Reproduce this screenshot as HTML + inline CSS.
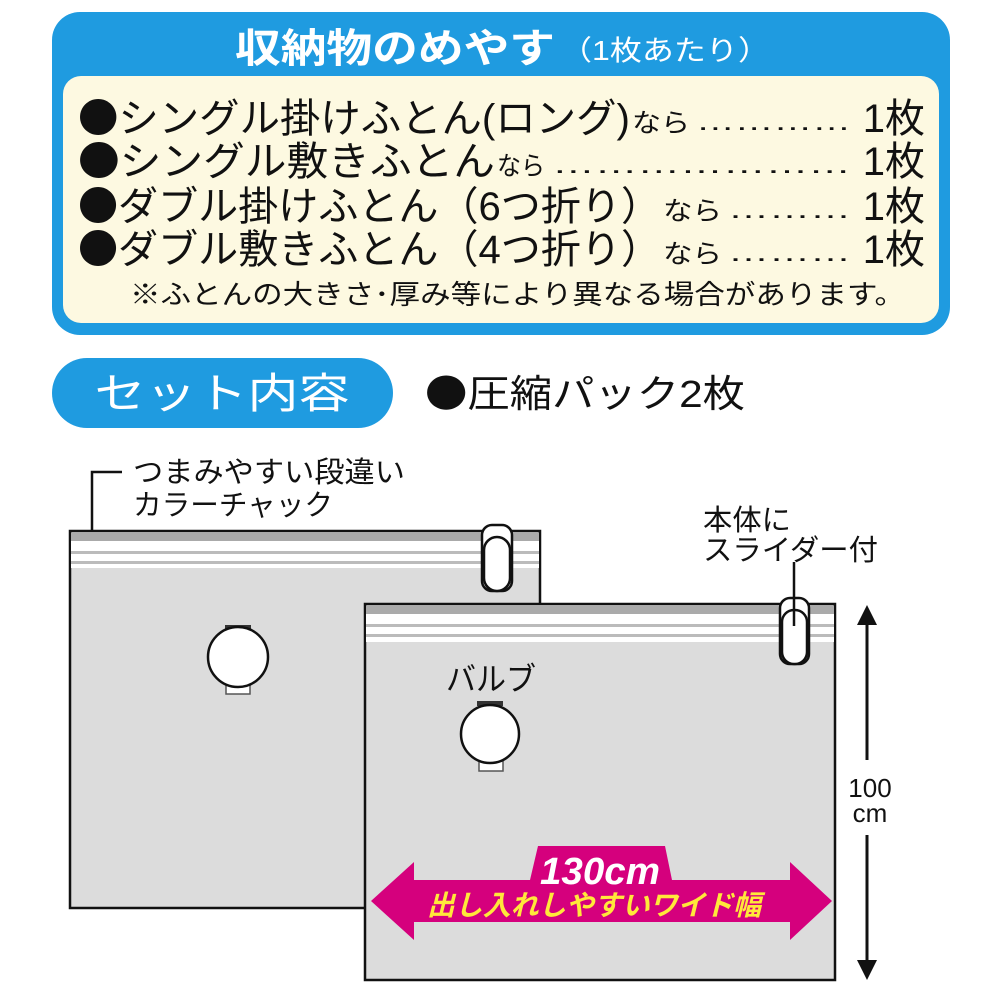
<!DOCTYPE html>
<html><head><meta charset="utf-8"><style>
html,body{margin:0;padding:0;background:#fff;}
svg{display:block;}
text{font-family:"Liberation Sans","Noto Sans CJK JP",sans-serif;}
.b{font-family:"Noto Sans CJK JP",sans-serif;}
</style></head><body>
<svg width="1000" height="1000" viewBox="0 0 1000 1000" xmlns="http://www.w3.org/2000/svg">
<rect x="52" y="12" width="898" height="323" rx="28" fill="#1f9be0"/>
<rect x="63" y="76" width="876" height="247" rx="18" fill="#fdf9e1"/>
<text x="235" y="62" font-size="40" font-weight="bold" fill="#fff" textLength="320" lengthAdjust="spacingAndGlyphs">収納物のめやす</text>
<text x="560" y="60" font-size="28" fill="#fff" textLength="210" lengthAdjust="spacingAndGlyphs">（1枚あたり）</text>

<g fill="#111">
<text x="78" y="132" font-size="40" textLength="552" lengthAdjust="spacingAndGlyphs"><tspan class="b">●</tspan>シングル掛けふとん(ロング)</text>
<text x="632" y="132" font-size="26" textLength="58" lengthAdjust="spacingAndGlyphs">なら</text>
<text x="696" y="130" font-size="26" textLength="155" lengthAdjust="spacingAndGlyphs">…………</text>
<text x="925" y="132" font-size="40" text-anchor="end">1枚</text>

<text x="78" y="175" font-size="40" textLength="417" lengthAdjust="spacingAndGlyphs"><tspan class="b">●</tspan>シングル敷きふとん</text>
<text x="497" y="175" font-size="26" textLength="48" lengthAdjust="spacingAndGlyphs">なら</text>
<text x="552" y="173" font-size="26" textLength="299" lengthAdjust="spacingAndGlyphs">…………………</text>
<text x="925" y="175" font-size="40" text-anchor="end">1枚</text>

<text x="78" y="220" font-size="40" textLength="583" lengthAdjust="spacingAndGlyphs"><tspan class="b">●</tspan>ダブル掛けふとん（6つ折り）</text>
<text x="663" y="220" font-size="26" textLength="59" lengthAdjust="spacingAndGlyphs">なら</text>
<text x="728" y="218" font-size="26" textLength="123" lengthAdjust="spacingAndGlyphs">………</text>
<text x="925" y="220" font-size="40" text-anchor="end">1枚</text>

<text x="78" y="263" font-size="40" textLength="583" lengthAdjust="spacingAndGlyphs"><tspan class="b">●</tspan>ダブル敷きふとん（4つ折り）</text>
<text x="663" y="263" font-size="26" textLength="59" lengthAdjust="spacingAndGlyphs">なら</text>
<text x="728" y="261" font-size="26" textLength="123" lengthAdjust="spacingAndGlyphs">………</text>
<text x="925" y="263" font-size="40" text-anchor="end">1枚</text>

<text x="130" y="304" font-size="27" textLength="775" lengthAdjust="spacingAndGlyphs">※ふとんの大きさ･厚み等により異なる場合があります。</text>
</g>

<rect x="52" y="358" width="341" height="70" rx="35" fill="#1f9be0"/>
<text x="222" y="408" font-size="42" fill="#fff" text-anchor="middle" textLength="255" lengthAdjust="spacingAndGlyphs">セット内容</text>
<text x="425" y="407" font-size="38" fill="#111" textLength="320" lengthAdjust="spacingAndGlyphs"><tspan class="b">●</tspan>圧縮パック2枚</text>

<polyline points="92,552 92,472 122,472" fill="none" stroke="#111" stroke-width="2.5"/>
<text x="133" y="482" font-size="29" fill="#111" textLength="272" lengthAdjust="spacingAndGlyphs">つまみやすい段違い</text>
<text x="133" y="515" font-size="29" fill="#111" textLength="200" lengthAdjust="spacingAndGlyphs">カラーチャック</text>

<g>
<rect x="70" y="531" width="470" height="377" fill="#dcdcdc" stroke="#111" stroke-width="2.5"/>
<rect x="71" y="533" width="468" height="8" fill="#aaa"/>
<rect x="71" y="541" width="468" height="10" fill="#fff"/>
<rect x="71" y="551" width="468" height="3" fill="#bbb"/>
<rect x="71" y="554" width="468" height="7" fill="#fff"/>
<rect x="71" y="561" width="468" height="3" fill="#bbb"/>
<rect x="71" y="564" width="468" height="4" fill="#fff"/>
<rect x="482" y="525" width="30" height="66" rx="10" fill="#fff" stroke="#111" stroke-width="2.5"/>
<rect x="484" y="537" width="26" height="54" rx="13" fill="#fff" stroke="#111" stroke-width="2.5"/>
<rect x="225" y="625" width="26" height="5" fill="#333"/>
<rect x="226" y="682" width="24" height="12" fill="#fff" stroke="#555" stroke-width="1.5"/>
<circle cx="238" cy="657" r="30" fill="#fff" stroke="#111" stroke-width="2.5"/>
</g>

<g>
<rect x="365" y="604" width="470" height="376" fill="#dcdcdc" stroke="#111" stroke-width="2.5"/>
<rect x="366" y="606" width="468" height="8" fill="#aaa"/>
<rect x="366" y="614" width="468" height="10" fill="#fff"/>
<rect x="366" y="624" width="468" height="3" fill="#bbb"/>
<rect x="366" y="627" width="468" height="7" fill="#fff"/>
<rect x="366" y="634" width="468" height="3" fill="#bbb"/>
<rect x="366" y="637" width="468" height="5" fill="#fff"/>
<rect x="780" y="598" width="29" height="66" rx="10" fill="#fff" stroke="#111" stroke-width="2.5"/>
<rect x="782" y="610" width="25" height="54" rx="12" fill="#fff" stroke="#111" stroke-width="2.5"/>
<rect x="477" y="701" width="26" height="5" fill="#333"/>
<rect x="479" y="759" width="24" height="12" fill="#fff" stroke="#555" stroke-width="1.5"/>
<circle cx="490" cy="734" r="29" fill="#fff" stroke="#111" stroke-width="2.5"/>
<text x="446" y="690" font-size="32" fill="#111" textLength="90" lengthAdjust="spacingAndGlyphs">バルブ</text>
</g>

<line x1="794" y1="562" x2="794" y2="626" stroke="#111" stroke-width="2.5"/>
<text x="703" y="530" font-size="29" fill="#111" textLength="88" lengthAdjust="spacingAndGlyphs">本体に</text>
<text x="703" y="560" font-size="29" fill="#111" textLength="175" lengthAdjust="spacingAndGlyphs">スライダー付</text>

<line x1="867" y1="620" x2="867" y2="760" stroke="#111" stroke-width="3"/>
<line x1="867" y1="835" x2="867" y2="965" stroke="#111" stroke-width="3"/>
<polygon points="867,605 857,625 877,625" fill="#111"/>
<polygon points="867,980 857,960 877,960" fill="#111"/>
<text x="870" y="797" font-size="26" fill="#111" text-anchor="middle">100</text>
<text x="870" y="822" font-size="26" fill="#111" text-anchor="middle">cm</text>

<polygon points="371,901 414,862 414,880 530,880 538,846 665,846 672,880 790,880 790,862 832,901 790,940 790,922 414,922 414,940" fill="#d5007d"/>
<text x="600" y="884" font-size="38" font-weight="bold" font-style="italic" fill="#fff" text-anchor="middle" textLength="120" lengthAdjust="spacingAndGlyphs">130cm</text>
<text x="594" y="915" font-size="28" font-weight="bold" font-style="italic" fill="#ffe83a" text-anchor="middle" textLength="334" lengthAdjust="spacingAndGlyphs">出し入れしやすいワイド幅</text>
</svg>
</body></html>
